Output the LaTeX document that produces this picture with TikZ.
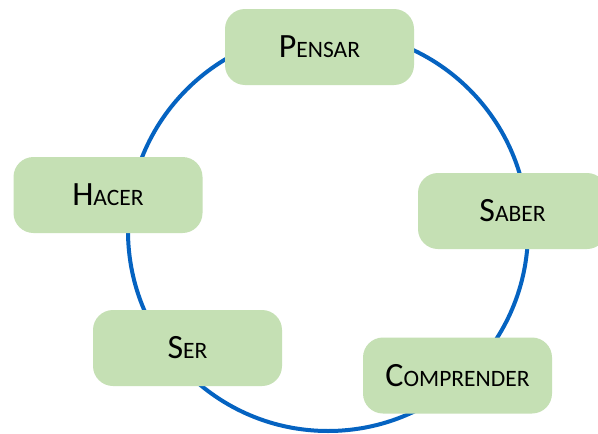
\documentclass[tikz,border=0pt]{standalone}
\usepackage{fontspec}
\setmainfont{Carlito}
\definecolor{ringblue}{HTML}{0563C1}
\definecolor{boxgreen}{HTML}{C5E0B4}
\newcommand{\bigL}[1]{{\fontsize{34}{34}\selectfont #1}}
\newcommand{\smL}[1]{{\fontsize{23.5}{23.5}\selectfont #1}}
\tikzset{
  stage/.style={fill=boxgreen, draw=none, rounded corners=20pt,
    minimum width=189pt, minimum height=76pt, inner sep=0pt, text=black},
  ring/.style={draw=ringblue, line width=4pt}
}
\begin{document}
\begin{tikzpicture}[x=1pt,y=-1pt]
\useasboundingbox (0,0) rectangle (598,434);
\fill[white] (0,0) rectangle (598,434);
\coordinate (c) at (328,231);
\draw[ring] (c) circle[radius=200];
\node[stage] (pensar) at (319.5,47) {\bigL{P}\smL{ENSAR}};
\node[stage] (hacer) at (108,195) {\bigL{H}\smL{ACER}};
\node[stage] (saber) at (512.5,211) {\bigL{S}\smL{ABER}};
\node[stage] (ser) at (187.5,348) {\bigL{S}\smL{ER}};
\node[stage] (comprender) at (457.5,375.5) {\bigL{C}\smL{OMPRENDER}};
\end{tikzpicture}
\end{document}
